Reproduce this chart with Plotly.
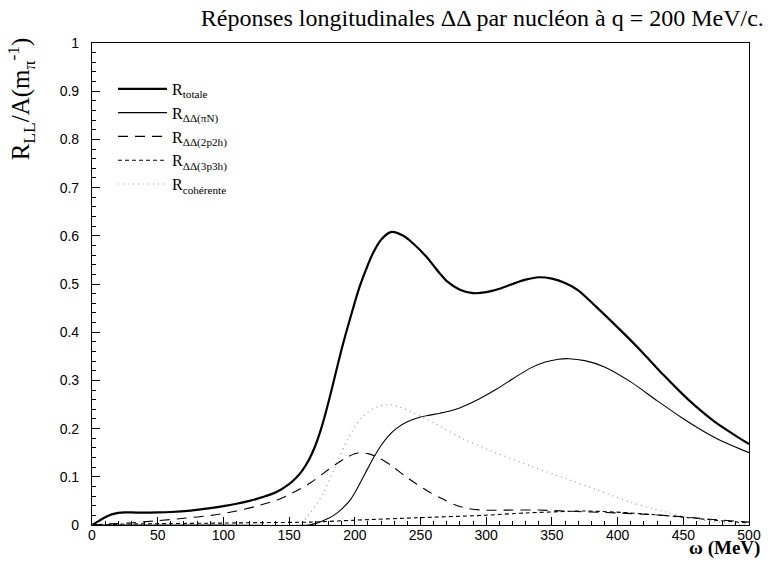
import plotly.graph_objects as go

# ---- data ----
omega_tot = [0, 5, 10, 15, 20, 25, 30, 40, 50, 60, 75, 90, 100, 110, 120, 130, 140, 150, 155, 160,
             165, 170, 175, 180, 185, 190, 194, 200, 204, 210, 214, 220, 228, 237, 244, 255, 260, 265,
             270, 280, 290, 300, 310, 320, 330, 340, 350, 360, 370, 384, 400, 410, 420, 435, 450, 460,
             474, 490, 500]
r_tot = [0, 0.008, 0.016, 0.022, 0.025, 0.026, 0.026, 0.0255, 0.026, 0.027, 0.030, 0.035, 0.039,
         0.044, 0.050, 0.058, 0.068, 0.085, 0.097, 0.113, 0.135, 0.165, 0.205, 0.255, 0.31, 0.365,
         0.405, 0.462, 0.497, 0.54, 0.565, 0.592, 0.608, 0.600, 0.585, 0.555, 0.538, 0.521, 0.506,
         0.488, 0.481, 0.483, 0.490, 0.500, 0.509, 0.514, 0.511, 0.502, 0.487, 0.452, 0.410, 0.383,
         0.355, 0.311, 0.270, 0.245, 0.214, 0.185, 0.168]

omega_pin = [0, 100, 165, 170, 175, 180, 185, 190, 196, 200, 204, 210, 215, 220, 225, 232, 240, 250,
             257, 265, 277, 290, 308, 320, 334, 345, 355, 363, 375, 390, 410, 430, 448, 465, 480, 500]
r_pin = [0, 0, 0, 0.003, 0.008, 0.014, 0.022, 0.033, 0.050, 0.067, 0.087, 0.118, 0.143, 0.165, 0.183,
         0.201, 0.214, 0.224, 0.228, 0.232, 0.240, 0.255, 0.282, 0.303, 0.326, 0.338, 0.344, 0.345,
         0.341, 0.328, 0.297, 0.258, 0.224, 0.195, 0.173, 0.150]

omega_2p2h = [0, 10, 28, 50, 70, 91, 110, 125, 141, 155, 166, 175, 185, 195, 203, 210, 218, 228, 237,
              247, 257, 267, 277, 287, 297, 320, 340, 359, 380, 400, 422, 445, 470, 500]
r_2p2h = [0, 0.002, 0.004, 0.009, 0.014, 0.020, 0.029, 0.039, 0.052, 0.070, 0.087, 0.105, 0.125,
          0.142, 0.150, 0.148, 0.140, 0.123, 0.104, 0.085, 0.068, 0.054, 0.041, 0.034, 0.031, 0.031,
          0.031, 0.029, 0.027, 0.025, 0.022, 0.018, 0.012, 0.006]

omega_3p3h = [0, 28, 60, 100, 130, 166, 200, 247, 297, 330, 359, 375, 397, 420, 447, 470, 500]
r_3p3h = [0, 0.002, 0.003, 0.004, 0.005, 0.006, 0.010, 0.015, 0.020, 0.025, 0.028, 0.029, 0.027,
          0.023, 0.017, 0.011, 0.004]

omega_coh = [0, 150, 155, 160, 166, 170, 176, 185, 195, 205, 215, 225, 234, 245, 260, 283, 300, 334,
             360, 384, 410, 435, 450, 470, 490, 500]
r_coh = [0, 0, 0, 0.005, 0.025, 0.040, 0.066, 0.120, 0.180, 0.222, 0.243, 0.250, 0.245, 0.232,
         0.212, 0.178, 0.158, 0.122, 0.097, 0.073, 0.047, 0.028, 0.018, 0.008, 0.002, 0]

names = ["R<sub>totale</sub>", "R<sub>ΔΔ(πN)</sub>", "R<sub>ΔΔ(2p2h)</sub>",
         "R<sub>ΔΔ(3p3h)</sub>", "R<sub>cohérente</sub>"]

SERIF = "Liberation Serif, Times New Roman, serif"
SANS = "Liberation Sans, Arial, sans-serif"

fig = go.Figure()
series = [
    (omega_tot, r_tot, dict(color="black", width=2.2)),
    (omega_pin, r_pin, dict(color="black", width=1.1)),
    (omega_2p2h, r_2p2h, dict(color="black", width=1.1, dash="10px,7px")),
    (omega_3p3h, r_3p3h, dict(color="black", width=1.1, dash="4px,3px")),
    (omega_coh, r_coh, dict(color="#9a9a9a", width=1.2, dash="1px,4px")),
]
for (xs, ys, ln), nm in zip(series, names):
    fig.add_trace(go.Scatter(x=xs, y=ys, mode="lines", name=nm,
                             line=dict(shape="spline", smoothing=0.8, **ln)))

fig.update_layout(
    width=773, height=562, autosize=False,
    margin=dict(l=92, r=16, t=43, b=37),
    paper_bgcolor="white", plot_bgcolor="white",
    showlegend=True,
    legend=dict(x=0.032, y=0.94, xanchor="left", yanchor="top",
                bgcolor="rgba(0,0,0,0)", borderwidth=0,
                font=dict(family=SERIF, size=16, color="black"),
                itemwidth=49, tracegroupgap=0),
    title=dict(text="Réponses longitudinales ΔΔ par nucléon à q = 200 MeV/c.",
               x=0.624, xanchor="center", y=0.968, yanchor="middle",
               font=dict(family=SERIF, size=24, color="black")),
)

fig.update_xaxes(range=[0, 500], tick0=0, dtick=50, ticks="inside", ticklen=8,
                 tickwidth=1, tickcolor="black", showgrid=False, zeroline=False,
                 showline=True, linecolor="black", linewidth=1.2, mirror=True,
                 ticklabelstandoff=-3,
                 tickfont=dict(family=SANS, size=14, color="black"),
                 minor=dict(ticks="inside", ticklen=4, dtick=10, tickcolor="black", showgrid=False))
fig.update_yaxes(range=[0, 1], tick0=0, dtick=0.1, ticks="inside", ticklen=8,
                 tickwidth=1, tickcolor="black", showgrid=False, zeroline=False,
                 showline=True, linecolor="black", linewidth=1.2, mirror=True,
                 tickformat="~g", ticklabelstandoff=9,
                 tickfont=dict(family=SANS, size=14, color="black"),
                 minor=dict(ticks="inside", ticklen=4, dtick=0.02, tickcolor="black", showgrid=False))

fig.add_annotation(text="R<sub>LL</sub>/A(m<sub>π</sub><sup>-1</sup>)", textangle=-90,
                   xref="paper", yref="paper", x=-0.108, y=1.015, xanchor="center", yanchor="top",
                   showarrow=False, font=dict(family=SERIF, size=25, color="black"))
fig.add_annotation(text="<b>ω (MeV)</b>", xref="paper", yref="paper", x=1.0195, y=-0.0477,
                   xanchor="right", yanchor="middle", showarrow=False,
                   font=dict(family=SERIF, size=19, color="black"))

fig.write_html("out.html",
               config={"displayModeBar": False, "responsive": False},
               post_script="document.body.style.margin='0px';"
                           "document.body.style.overflow='hidden';"
                           "document.documentElement.style.overflow='hidden';")
